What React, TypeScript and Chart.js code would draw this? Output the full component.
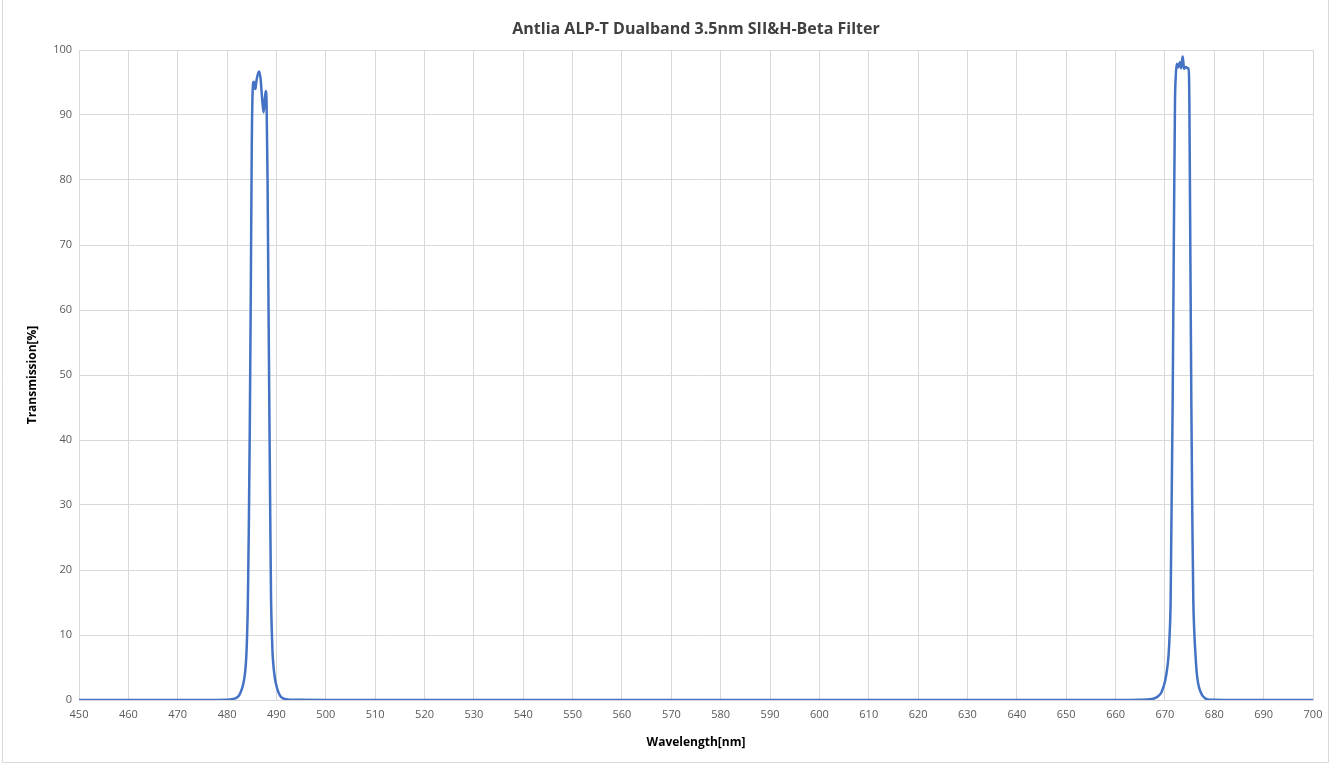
import React, { useEffect, useRef } from "react";
import { Chart, registerables } from "chart.js";

Chart.register(...registerables);

const chartTitle = "Antlia ALP-T Dualband 3.5nm SII&H-Beta Filter";
const xAxisTitle = "Wavelength[nm]";
const yAxisTitle = "Transmission[%]";

const wavelengths: number[] = [
  450, 460, 470, 478, 480, 481, 481.5, 482, 482.5, 483, 483.4, 483.7, 483.9, 484.05, 484.2, 484.4, 484.6,
  484.8, 485.0, 485.2, 485.4, 485.6, 485.75, 485.9, 486.2, 486.5, 486.8, 487.1, 487.4, 487.65,
  487.85, 488.0, 488.2, 488.4, 488.55, 488.75, 488.9, 489.05, 489.2, 489.45, 489.7, 490.0, 490.3, 490.7, 491.2,
  492, 493, 495, 500, 550, 600, 650, 663, 665, 667, 667.6, 668.5, 669.3, 670.06, 670.45, 670.75, 670.95,
  671.16, 671.57, 671.8, 672.04, 672.2, 672.39, 672.55, 672.65, 672.85, 673.06, 673.26, 673.45,
  673.6, 673.75, 673.87, 674.05, 674.27, 674.55, 674.82, 674.95, 675.1, 675.35, 675.55, 675.75,
  675.95, 676.15, 676.4, 676.65, 677.0, 677.5, 678.0, 678.5, 680, 682, 690, 700,
];

const transmission: number[] = [
  0, 0, 0, 0, 0.02, 0.1, 0.2, 0.4, 0.8, 1.7, 2.9, 4.6, 6.8, 9.8, 14.5, 26, 42,
  62, 85, 94, 95.1, 94.2, 94.0, 95.0, 96.2, 96.7, 95.5, 92.5, 90.4, 92.5,
  93.7, 92, 80, 60, 46, 28, 16, 10.8, 7.4, 4.8, 3.3, 2.2, 1.4, 0.7, 0.3,
  0.1, 0.05, 0.02, 0, 0, 0, 0, 0, 0.02, 0.1, 0.2, 0.5, 1.2, 3, 4.8, 7, 10,
  15.4, 46, 70, 92, 96, 97.9, 97.4, 97.3, 97.8, 98.1, 97.2, 98.2,
  99.0, 98, 97.1, 97.3, 97.4, 97.2, 97.2, 92, 75, 46, 28, 15.4,
  10.5, 7.5, 4.6, 2.9, 1.7, 0.8, 0.35, 0.12, 0.02, 0, 0, 0,
];

const xMin = 450;
const xMax = 700;
const xStep = 10;
const yMin = 0;
const yMax = 100;
const yStep = 10;

const borderPlugin = {
  id: "outerBorder",
  afterDraw(chart: any) {
    const ctx = chart.ctx;
    ctx.save();
    ctx.strokeStyle = "#d9d9d9";
    ctx.lineWidth = 1;
    ctx.beginPath();
    ctx.moveTo(2.5, 0);
    ctx.lineTo(2.5, 762.5);
    ctx.lineTo(1328.5, 762.5);
    ctx.lineTo(1328.5, 0);
    ctx.stroke();
    ctx.restore();
  },
};

export default function App() {
  const canvasRef = useRef<HTMLCanvasElement | null>(null);

  useEffect(() => {
    document.body.style.margin = "0";
    if (!canvasRef.current) return;
    const points = wavelengths.map((w, i) => ({ x: w, y: transmission[i] }));
    const chart = new Chart(canvasRef.current, {
      type: "line",
      data: {
        datasets: [
          {
            label: "Transmission",
            data: points,
            borderColor: "#4472C4",
            borderWidth: 2.5,
            pointRadius: 0,
            fill: false,
            cubicInterpolationMode: "monotone",
          },
        ],
      },
      options: {
        animation: false,
        responsive: true,
        maintainAspectRatio: false,
        layout: { padding: { left: 0, right: 18, top: 0, bottom: 0 } },
        plugins: {
          legend: { display: false },
          tooltip: { enabled: false },
          title: {
            display: true,
            fullSize: false,
            text: chartTitle,
            color: "#404040",
            font: { family: "'Open Sans', sans-serif", size: 16, weight: "bold" },
            padding: { top: 19.5, bottom: 11.3 },
          },
        },
        scales: {
          x: {
            type: "linear",
            min: xMin,
            max: xMax,
            afterFit(scale: any) {
              scale.height = 64;
            },
            ticks: {
              stepSize: xStep,
              color: "#595959",
              padding: 8,
              maxRotation: 0,
              autoSkip: false,
              font: { family: "'Open Sans', sans-serif", size: 11 },
            },
            grid: { color: "#d9d9d9", drawTicks: false },
            border: { color: "#d9d9d9" },
            title: {
              display: true,
              text: xAxisTitle,
              color: "#000000",
              font: { family: "'Open Sans', sans-serif", size: 12, weight: "bold" },
              padding: { top: 0, bottom: 14 },
            },
          },
          y: {
            min: yMin,
            max: yMax,
            afterFit(scale: any) {
              scale.width = 79;
            },
            ticks: {
              stepSize: yStep,
              color: "#595959",
              padding: 7,
              font: { family: "'Open Sans', sans-serif", size: 11 },
            },
            grid: { color: "#d9d9d9", drawTicks: false },
            border: { color: "#d9d9d9" },
            title: {
              display: true,
              text: yAxisTitle,
              color: "#000000",
              font: { family: "'Open Sans', sans-serif", size: 12, weight: "bold" },
              padding: { top: 25, bottom: 0 },
            },
          },
        },
      },
      plugins: [borderPlugin],
    });
    return () => chart.destroy();
  }, []);

  return (
    <div style={{ width: "1331px", height: "764px", position: "relative", background: "#ffffff" }}>
      <canvas ref={canvasRef} />
    </div>
  );
}
